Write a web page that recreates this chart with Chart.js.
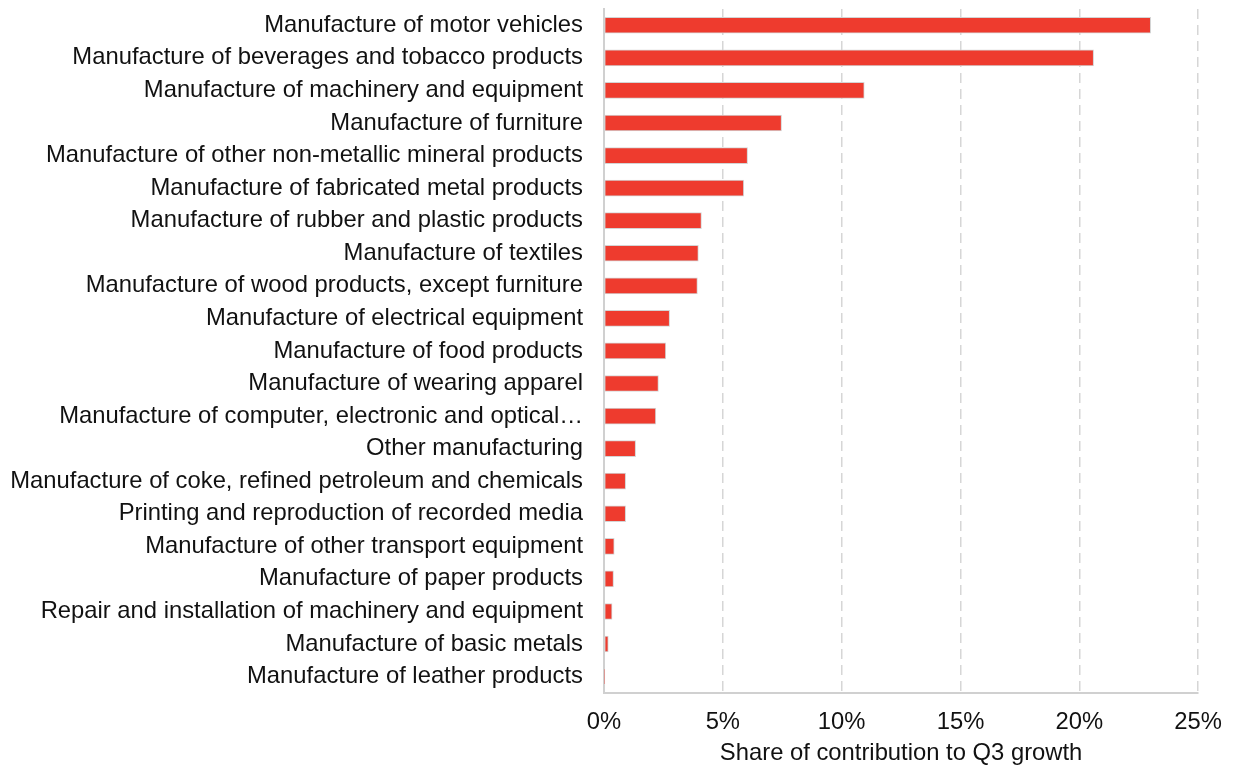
<!DOCTYPE html>
<html>
<head>
<meta charset="utf-8">
<script src="https://cdn.jsdelivr.net/npm/chart.js@4/dist/chart.umd.min.js"></script>
<style>
  html, body { margin: 0; padding: 0; background: #ffffff; }
  #wrap { width: 1237px; height: 769px; }
</style>
</head>
<body>
<div id="wrap"><canvas id="chart" width="1237" height="769"></canvas></div>
<script>
// Manufacturing sub-sectors, largest contributor first
const industries = [
  'Manufacture of motor vehicles',
  'Manufacture of beverages and tobacco products',
  'Manufacture of machinery and equipment',
  'Manufacture of furniture',
  'Manufacture of other non-metallic mineral products',
  'Manufacture of fabricated metal products',
  'Manufacture of rubber and plastic products',
  'Manufacture of textiles',
  'Manufacture of wood products, except furniture',
  'Manufacture of electrical equipment',
  'Manufacture of food products',
  'Manufacture of wearing apparel',
  'Manufacture of computer, electronic and optical\u2026',
  'Other manufacturing',
  'Manufacture of coke, refined petroleum and chemicals',
  'Printing and reproduction of recorded media',
  'Manufacture of other transport equipment',
  'Manufacture of paper products',
  'Repair and installation of machinery and equipment',
  'Manufacture of basic metals',
  'Manufacture of leather products'
];

// Share of contribution to Q3 growth, in percent
const shares = [
  23.0, 20.6, 10.95, 7.47, 6.04, 5.88, 4.10, 3.97, 3.93, 2.76,
  2.60, 2.29, 2.18, 1.33, 0.91, 0.91, 0.43, 0.40, 0.34, 0.18, 0.03
];

// Horizontal axis tick values (percent)
const xTicks = [0, 5, 10, 15, 20, 25];
const xAxisTitle = 'Share of contribution to Q3 growth';

const FONT = "'Liberation Sans', Arial, sans-serif";
const FONT_SIZE = 23.8;

new Chart(document.getElementById('chart'), {
  type: 'bar',
  data: {
    labels: industries,
    datasets: [{
      data: shares,
      backgroundColor: '#EE3B2E',
      borderColor: '#D4D4D4',
      borderWidth: 1,
      barThickness: 16,
      borderSkipped: false
    }]
  },
  options: {
    indexAxis: 'y',
    responsive: false,
    animation: false,
    layout: { padding: { top: 9, right: 33, bottom: 1, left: 0 } },
    plugins: {
      legend: { display: false },
      tooltip: { enabled: false }
    },
    scales: {
      x: {
        type: 'linear',
        min: xTicks[0],
        max: xTicks[xTicks.length - 1],
        afterBuildTicks: (scale) => { scale.ticks = xTicks.map(v => ({ value: v })); },
        ticks: {
          callback: (v) => v + '%',
          color: '#111111',
          font: { family: FONT, size: FONT_SIZE },
          padding: 15,
          maxRotation: 0
        },
        grid: {
          drawTicks: false,
          color: (ctx) => ctx.tick && ctx.tick.value === 0 ? 'rgba(0,0,0,0)' : '#D6D6D6',
          lineWidth: 1.5
        },
        border: { display: true, color: '#D0D0D0', width: 2, dash: [10, 6] },
        title: {
          display: true,
          text: xAxisTitle,
          color: '#111111',
          font: { family: FONT, size: FONT_SIZE },
          padding: { top: -12, bottom: 0 }
        }
      },
      y: {
        afterFit: (scale) => {
          scale.width = 604;
          scale.paddingTop = 0;
          scale.paddingBottom = 0;
        },
        ticks: {
          color: '#111111',
          font: { family: FONT, size: FONT_SIZE },
          padding: 21,
          autoSkip: false
        },
        grid: { display: false, drawTicks: false },
        border: { display: true, color: '#D0D0D0', width: 2 }
      }
    }
  }
});
</script>
</body>
</html>
